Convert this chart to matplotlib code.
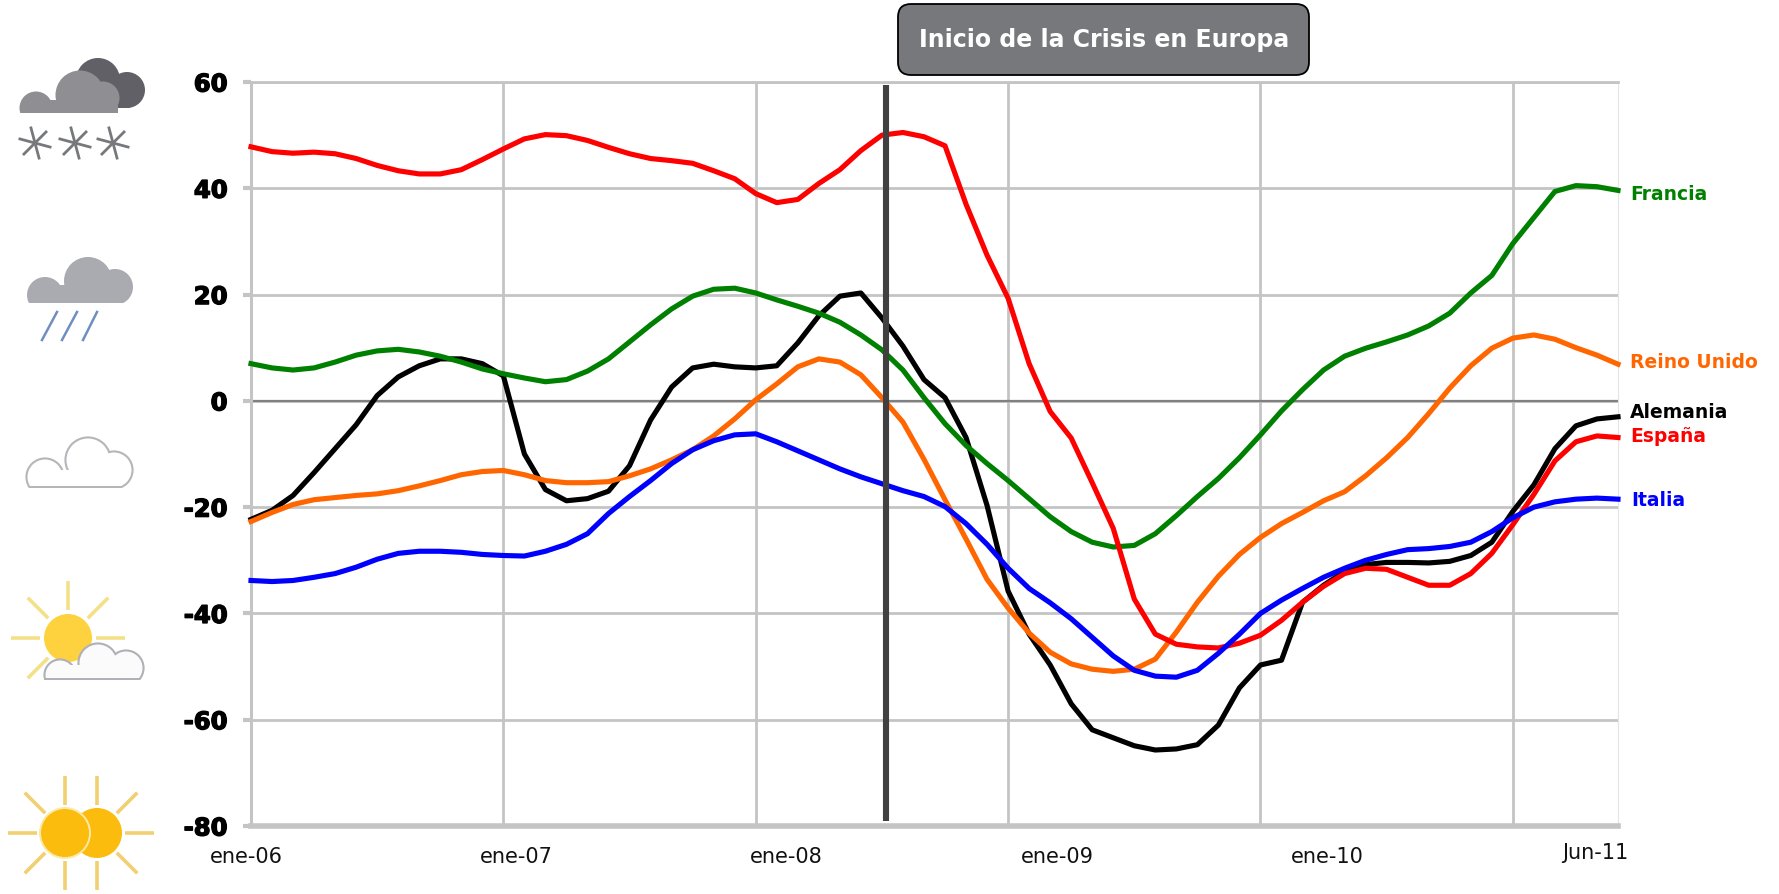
import math
import matplotlib
matplotlib.use("Agg")
import matplotlib.pyplot as plt
import matplotlib.patheffects as pe
from matplotlib.patches import Circle, Rectangle, FancyBboxPatch

months = list(range(66))
year_ticks = [12, 24, 36, 48, 60]
y_ticks = [60, 40, 20, 0, -20, -40, -60, -80]
x_labels = ["ene-06", "ene-07", "ene-08", "ene-09", "ene-10", "Jun-11"]
crisis_month = 30.2
crisis_label = "Inicio de la Crisis en Europa"

espana = [47.8,46.9,46.6,46.8,46.5,45.6,44.3,43.3,42.7,42.7,43.5,45.4,47.4,49.3,50.1,49.9,49,47.7,46.5,45.6,45.2,44.7,43.3,41.8,39,37.3,37.9,40.9,43.5,47.1,50,50.5,49.7,48,37,27.4,19.3,7,-2,-7,-15.4,-24,-37.3,-43.9,-45.8,-46.3,-46.5,-45.6,-44.1,-41.3,-37.9,-34.9,-32.5,-31.5,-31.7,-33.2,-34.7,-34.7,-32.5,-28.7,-23.3,-17.6,-11.3,-7.7,-6.6,-6.9]
francia = [7,6.2,5.8,6.2,7.3,8.6,9.4,9.7,9.2,8.4,7.3,6,5.1,4.3,3.6,4,5.6,7.9,11.1,14.3,17.3,19.7,21,21.2,20.3,19,17.8,16.5,14.8,12.4,9.6,5.8,0.6,-4.3,-8.4,-11.8,-15,-18.4,-21.8,-24.6,-26.6,-27.5,-27.2,-25,-21.6,-18,-14.6,-10.7,-6.4,-1.9,2.1,5.8,8.4,9.9,11.1,12.4,14.1,16.5,20.3,23.6,29.6,34.5,39.4,40.5,40.3,39.6]
reino = [-22.7,-21,-19.5,-18.6,-18.2,-17.8,-17.5,-16.9,-16,-15,-13.9,-13.3,-13.1,-13.9,-15,-15.4,-15.4,-15.2,-14.1,-12.8,-11.1,-9.2,-6.6,-3.4,0.2,3.2,6.4,7.9,7.3,4.9,0.6,-4,-11,-18.6,-26,-33.6,-39,-43.7,-47.3,-49.5,-50.5,-50.9,-50.5,-48.6,-43.5,-37.9,-33,-28.9,-25.7,-23.1,-21,-18.8,-17.1,-14.1,-10.7,-6.9,-2.4,2.4,6.6,9.9,11.8,12.4,11.6,10,8.6,6.9]
italia = [-33.8,-34,-33.8,-33.2,-32.5,-31.3,-29.8,-28.7,-28.3,-28.3,-28.5,-28.9,-29.1,-29.2,-28.3,-27,-25,-21.2,-18,-15,-11.8,-9.2,-7.5,-6.4,-6.2,-7.7,-9.4,-11.1,-12.8,-14.3,-15.6,-16.9,-18,-19.9,-23.1,-27,-31.5,-35.3,-38,-41,-44.5,-48,-50.7,-51.8,-52,-50.7,-47.5,-43.9,-40,-37.5,-35.3,-33.2,-31.5,-30,-28.9,-28,-27.8,-27.4,-26.6,-24.6,-22,-20,-19,-18.5,-18.3,-18.5]
alemania = [-22.3,-20.6,-17.8,-13.5,-9,-4.5,1,4.5,6.6,7.9,7.9,7,4.7,-10,-16.7,-18.8,-18.4,-17,-12.2,-3.6,2.6,6.2,6.9,6.4,6.2,6.6,10.9,16,19.7,20.3,15.6,10.3,4,0.6,-6.9,-19.7,-35.8,-43.9,-49.7,-57,-61.9,-63.4,-64.9,-65.7,-65.5,-64.7,-61,-54,-49.7,-48.8,-37.9,-34.7,-32.1,-30.8,-30.4,-30.4,-30.5,-30.2,-29.1,-26.6,-20.8,-15.8,-9,-4.7,-3.4,-3]

W, H = 1779, 894
fig = plt.figure(figsize=(W / 100, H / 100), dpi=100, facecolor="white")
L, R, T, B = 251, 1618, 82, 826
ax = fig.add_axes([L / W, 1 - B / H, (R - L) / W, (B - T) / H])
ax.set_xlim(0, 65)
ax.set_ylim(-80, 60)
GRID = "#c4c4c4"
ax.set_xticks(year_ticks)
ax.set_xticklabels([])
ax.set_yticks(y_ticks)
ax.set_yticklabels([str(v) for v in y_ticks], fontsize=17.5, fontweight="bold", color="black")
for lab in ax.get_yticklabels():
    lab.set_path_effects([pe.withStroke(linewidth=1.0, foreground="black")])
ax.tick_params(axis="x", length=0)
ax.tick_params(axis="y", length=6, width=3, color=GRID, pad=11)
ax.grid(True, color=GRID, lw=2)
ax.set_axisbelow(True)
for s, lw, c in [("left", 2.2, GRID), ("bottom", 4, GRID), ("top", 2, GRID), ("right", 0.8, "#e4e4e4")]:
    ax.spines[s].set_linewidth(lw)
    ax.spines[s].set_color(c)
ax.axhline(0, color="#808080", lw=1.6, zorder=1)

for vals, col in [(alemania, "black"), (reino, "#ff6600"), (francia, "#008000"),
                  (espana, "#ff0000"), (italia, "#0000ff")]:
    ax.plot(months, vals, color=col, lw=3.7, solid_joinstyle="round", zorder=3, clip_on=False)
ax.plot([crisis_month, crisis_month], [-79, 59.5], color="#404040", lw=4.4, zorder=4, solid_capstyle="butt")

# overlay in pixel coordinates for labels and weather icons
ov = fig.add_axes([0, 0, 1, 1], facecolor="none")
ov.set_xlim(0, W)
ov.set_ylim(H, 0)
ov.axis("off")

for txt, col, y, x in [("Francia", "#008000", 195, 1630), ("Reino Unido", "#ff6600", 363, 1630),
                       ("Alemania", "black", 412, 1630), ("España", "#ff0000", 437, 1630),
                       ("Italia", "#0000ff", 501, 1631)]:
    ov.text(x, y, txt, color=col, fontsize=13.5, fontweight="bold", va="center", ha="left")

for txt, x, y in zip(x_labels, [246, 516, 786, 1057, 1327, 1595], [857] * 5 + [853]):
    ov.text(x, y, txt, fontsize=15, color="#111111", ha="center", va="center")

ov.add_patch(FancyBboxPatch((898, 4), 411, 71, boxstyle="round,pad=0,rounding_size=13",
                            fc="#77787b", ec="black", lw=1.3))
ov.text(1104, 40, crisis_label, color="white", fontsize=17, fontweight="bold", ha="center", va="center")


def cloud(circles, rect, fc, ec=None, elw=1.5, z=5):
    bottom = rect[1] + rect[3]
    clip = Rectangle((0, 0), W, bottom + 2, transform=ov.transData)
    clip_in = Rectangle((0, 0), W, bottom, transform=ov.transData)
    if ec is not None:
        for (x, y, r) in circles:
            p = ov.add_patch(Circle((x, y), r + elw, fc=ec, ec="none", zorder=z))
            p.set_clip_path(clip)
        ov.add_patch(Rectangle((rect[0] - elw, rect[1]), rect[2] + 2 * elw, rect[3] + elw, fc=ec, ec="none", zorder=z))
    for (x, y, r) in circles:
        p = ov.add_patch(Circle((x, y), r - (0.5 if ec is not None else 0), fc=fc, ec="none", zorder=z + 0.1))
        p.set_clip_path(clip_in)
    ov.add_patch(Rectangle(rect[:2], rect[2], rect[3], fc=fc, ec="none", zorder=z + 0.1))


def rays(cx, cy, r0, r1, angles, col, lw=2.6):
    for a in angles:
        c, s = math.cos(math.radians(a)), math.sin(math.radians(a))
        ov.plot([cx + r0 * c, cx + r1 * c], [cy + r0 * s, cy + r1 * s], color=col, lw=lw, zorder=4,
                solid_capstyle="butt")


# snow
cloud([(98, 80, 22), (127, 90, 18)], (98, 88, 32, 20), "#606066")
cloud([(80, 95, 25), (36, 108, 17), (103, 98, 17)], (30, 100, 88, 13), "#8f8f93", ec="white", elw=1.5)
for cx in (35, 75, 113):
    rays(cx, 143, 0, 17, [15, 75, 135, 195, 255, 315], "#77787b", lw=2)
# rain
cloud([(88, 281, 24), (45, 295, 18), (115, 287, 18)], (40, 285, 80, 18), "#a9abb0")
for x0, x1 in [(57, 42), (77, 62), (97, 83)]:
    ov.plot([x0, x1], [312, 340], color="#6f8fbf", lw=1.8, zorder=5)
# outline cloud
cloud([(88, 460, 22), (45, 477, 18), (114, 470, 18)], (45, 470, 75, 16), "white", ec="#b4b6ba", elw=1.6)
# sun and cloud
rays(68, 638, 28, 57, [0, 180, 135, 225, 270, 315], "#f5e08a")
ov.add_patch(Circle((68, 638), 24, fc="#fdd23e", ec="none", zorder=4.5))
cloud([(98, 663, 19), (60, 675, 15), (126, 668, 17)], (60, 665, 70, 13), "#fbfbfb", ec="#b0b1b6", elw=1.6, z=6)
# double sun
rays(65, 833, 28, 57, [90, 135, 180, 225, 270], "#f0d070")
rays(97, 833, 28, 57, [270, 315, 0, 45, 90], "#f0d070")
ov.add_patch(Circle((97, 833), 25, fc="#fbbc0e", ec="none", zorder=5))
ov.add_patch(Circle((65, 833), 25, fc="#fbbc0e", ec="#fbe9a8", lw=1.4, zorder=6))

fig.savefig("out.png", dpi=100, facecolor="white")
